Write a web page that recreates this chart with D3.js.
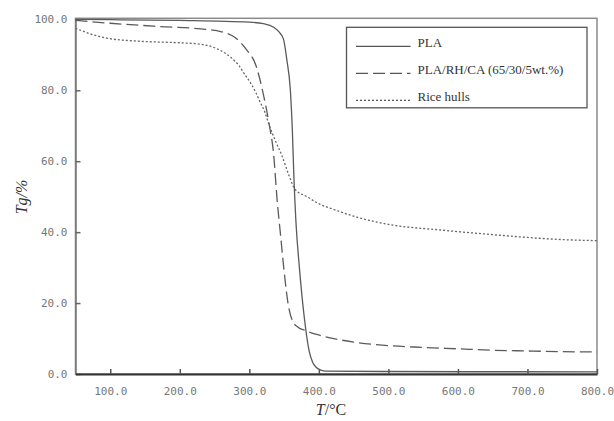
<!DOCTYPE html>
<html>
<head>
<meta charset="utf-8">
<script src="https://cdn.jsdelivr.net/npm/d3@7"></script>
<style>
  body { margin: 0; background: #fff; }
  #chart svg { display: block; }
</style>
</head>
<body>
<div id="chart"></div>
<script>
// series: [temperature, mass %]
var plaData = [[50,100],[100,99.9],[200,99.7],[300,99.2],[320,98.8],[335,97.8],[342,96.6],[349,94.5],
  [354,88.5],[359,80],[362,68],[364,56],[367,43],[372,30],[379,16],[386,6.5],[391,3.3],[396,1.9],
  [403,1.1],[410,0.8],[500,0.7],[800,0.6]];
var blendData = [[50,99.7],[100,98.9],[170,98],[230,97.3],[260,96.5],[280,94.8],[295,91.7],[310,86.7],
  [320,79],[328,71],[335,61.8],[340,49],[345,39],[350,29],[356,19.5],[362,15],[370,13.2],[380,12.3],
  [400,11],[450,9],[500,8],[550,7.5],[600,7.1],[650,6.7],[700,6.5],[750,6.3],[800,6.2]];
var riceData = [[50,97.5],[70,96],[95,94.7],[145,93.8],[200,93.4],[230,93],[250,92],[265,90.5],
  [275,89],[285,87],[294,84.3],[302,82],[309,79.5],[316,76.5],[322,74],[328,70.5],[337,66],
  [347,61.5],[357,56],[366,52],[383,50],[400,48],[420,46.5],[450,44.5],[500,42.2],[575,40.6],
  [650,39.3],[700,38.5],[750,37.9],[800,37.6]];

var seriesNames = ["PLA", "PLA/RH/CA (65/30/5wt.%)", "Rice hulls"];
var seriesDash = ["none", "12,5", "2,2"];
var xTicks = [100, 200, 300, 400, 500, 600, 700, 800];
var yTicks = [0, 20, 40, 60, 80, 100];

function main() {
  var margin = {top: 18.3, right: 17, bottom: 47, left: 75.5},
      width = 614 - margin.left - margin.right,
      height = 421 - margin.top - margin.bottom;

  var svg = d3.select("#chart")
    .append("svg")
    .attr("width", 614)
    .attr("height", 421)
    .append("g")
    .attr("transform", "translate(" + margin.left + "," + margin.top + ")");

  var x = d3.scaleLinear().domain([50, 800]).range([0, width]);
  var y = d3.scaleLinear().domain([0, 100.3]).range([height, 0]);

  // plot frame
  svg.append("rect")
    .attr("width", width)
    .attr("height", height)
    .attr("fill", "none")
    .attr("stroke", "#8a8a8a")
    .attr("stroke-width", 1.5);

  // y axis, ticks pointing inward
  var yAxis = svg.append("g")
    .call(d3.axisLeft(y).tickValues(yTicks).tickSizeInner(-5).tickSizeOuter(0)
      .tickPadding(8).tickFormat(d3.format(".1f")));
  yAxis.select(".domain").attr("stroke", "#777").attr("stroke-width", 1.5);
  yAxis.selectAll(".tick line").attr("stroke", "#666").attr("stroke-width", 1.5);
  yAxis.selectAll("text")
    .attr("fill", "#777")
    .style("font-family", "DejaVu Sans Mono")
    .style("font-size", "11px");

  // x axis
  var xAxis = svg.append("g")
    .attr("transform", "translate(0," + height + ")")
    .call(d3.axisBottom(x).tickValues(xTicks).tickSizeInner(-5).tickSizeOuter(0)
      .tickPadding(13).tickFormat(d3.format(".1f")));
  xAxis.select(".domain").attr("stroke", "#333").attr("stroke-width", 2.2);
  xAxis.selectAll(".tick line").attr("stroke", "#555").attr("stroke-width", 1.5);
  xAxis.selectAll("text")
    .attr("fill", "#777")
    .style("font-family", "DejaVu Sans Mono")
    .style("font-size", "11px");

  // curves
  var line = d3.line()
    .x(function(d) { return x(d[0]); })
    .y(function(d) { return y(d[1]); })
    .curve(d3.curveMonotoneX);

  var allData = [plaData, blendData, riceData];
  svg.append("g")
    .selectAll("path")
    .data(allData)
    .enter()
    .append("path")
    .attr("d", line)
    .attr("fill", "none")
    .attr("stroke", function(d, i) { return i == 2 ? "#666" : "#5a5a5a"; })
    .attr("stroke-width", function(d, i) { return i == 2 ? 1.3 : 1.3; })
    .attr("stroke-dasharray", function(d, i) { return seriesDash[i]; });

  // legend box
  var legend = svg.append("g")
    .attr("transform", "translate(" + (346.5 - margin.left) + "," + (27.3 - margin.top) + ")");
  legend.append("rect")
    .attr("width", 240.5)
    .attr("height", 80.5)
    .attr("fill", "#fff")
    .attr("stroke", "#555")
    .attr("stroke-width", 1.3);

  var item = legend.selectAll(".item")
    .data(seriesNames)
    .enter()
    .append("g")
    .attr("transform", function(d, i) { return "translate(0," + (19 + i * 27) + ")"; });
  item.append("line")
    .attr("x1", 9.5)
    .attr("x2", 64)
    .attr("stroke", "#555")
    .attr("stroke-width", 1.3)
    .attr("stroke-dasharray", function(d, i) { return seriesDash[i]; });
  item.append("text")
    .attr("x", 71)
    .attr("y", 0.5)
    .attr("fill", "#333")
    .style("font-family", "Liberation Serif")
    .style("font-size", "13px")
    .text(function(d) { return d; });

  // axis titles
  svg.append("text")
    .attr("transform", "translate(" + (27 - margin.left) + "," + (197 - margin.top) + ") rotate(-90)")
    .attr("text-anchor", "middle")
    .attr("fill", "#333")
    .style("font-family", "Liberation Serif")
    .style("font-size", "16px")
    .style("font-style", "italic")
    .text("Tg/%");

  var xt = svg.append("text")
    .attr("x", 331 - margin.left)
    .attr("y", 415 - margin.top)
    .attr("text-anchor", "middle")
    .attr("fill", "#333")
    .style("font-family", "Liberation Serif")
    .style("font-size", "16px");
  xt.append("tspan").style("font-style", "italic").text("T");
  xt.append("tspan").text("/°C");
}
main();
</script>
</body>
</html>
